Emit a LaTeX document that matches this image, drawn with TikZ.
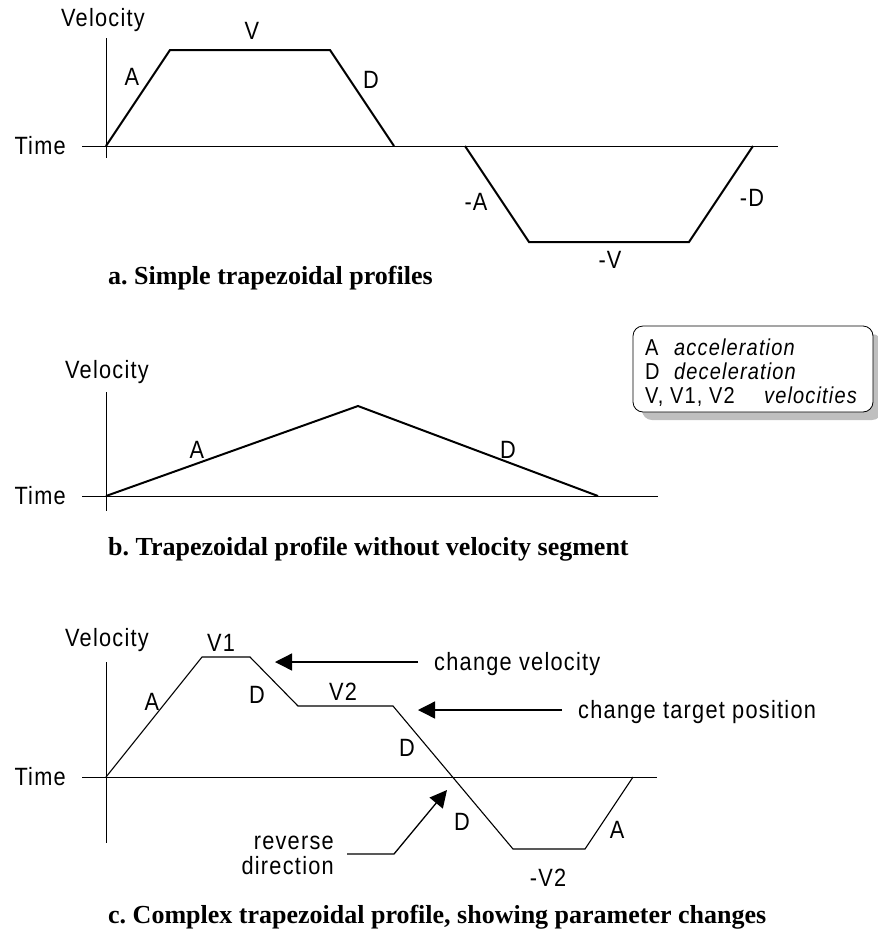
\documentclass[tikz,border=0pt]{standalone}
\usepackage{fontspec}
\setmainfont{Liberation Serif}
\newfontfamily\labelfont[LetterSpace=5,FakeStretch=0.87]{Liberation Sans}
\usetikzlibrary{arrows.meta}
\begin{document}
\frenchspacing
\begin{tikzpicture}[x=1pt,y=-1pt,
  lbl/.style={font=\labelfont\fontsize{25}{25}\selectfont, inner sep=0pt,
              text height=17.9pt, text depth=0pt},
  keyterm/.style={font=\labelfont\fontsize{23}{23}\selectfont, inner sep=0pt,
              text height=16.4pt, text depth=0pt, anchor=west},
  keyword/.style={keyterm, font=\labelfont\itshape\fontsize{23}{23}\selectfont},
  caption/.style={font=\rmfamily\bfseries\fontsize{26}{30}\selectfont,
                  anchor=base west, inner sep=0pt},
  axis/.style={line width=0.9pt},
  profile/.style={line width=2pt, line join=miter},
  thinprofile/.style={line width=1.1pt, line join=miter},
  pointer/.style={line width=1.3pt, -{Triangle[length=17pt,width=17pt]}},
]
\useasboundingbox (0,0) rectangle (878,946);

% ---------- a. simple trapezoidal profiles ----------
\draw[axis] (82,146) -- (778,146);
\draw[axis] (106,38) -- (106,158);
\node[lbl] (velA) at (103,18) {Velocity};
\node[lbl, anchor=east] (timeA) at (66,146) {Time};
\draw[profile] (106,146) -- (170,50) -- (330,50) -- (394,146);
\draw[profile] (465,146) -- (529,242) -- (689,242) -- (753,146);
\node[lbl] (aV) at (252,31) {V};
\node[lbl] (aA) at (132,77) {A};
\node[lbl] (aD) at (371,80) {D};
\node[lbl] (aNA) at (476,202) {-A};
\node[lbl] (aND) at (752,198) {-D};
\node[lbl] (aNV) at (610,260) {-V};
\node[caption] (capA) at (108,284) {a. Simple trapezoidal profiles};

% ---------- b. profile without velocity segment ----------
\draw[axis] (82,496) -- (658,496);
\draw[axis] (106,392) -- (106,511);
\node[lbl] (velB) at (107,370) {Velocity};
\node[lbl, anchor=east] (timeB) at (66,496) {Time};
\draw[profile] (106,496) -- (358,406) -- (598,496);
\node[lbl] (bA) at (197,450) {A};
\node[lbl] (bD) at (508,450) {D};
\node[caption] (capB) at (108,555) {b. Trapezoidal profile without velocity segment};

% ---------- legend ----------
\fill[gray!50, rounded corners=10pt] (642,334) rectangle (882,420);
\node[draw, fill=white, rounded corners=10pt, line width=0.8pt,
      minimum width=240pt, minimum height=86pt, inner sep=0pt] (legend) at (753,369) {};
\node[keyterm] (keyA) at (645,347) {A};
\node[keyword] (keyAtxt) at (674,347) {acceleration};
\node[keyterm] (keyD) at (645,371) {D};
\node[keyword] (keyDtxt) at (674,371) {deceleration};
\node[keyterm] (keyV) at (645,395) {V, V1, V2};
\node[keyword] (keyVtxt) at (764,395) {velocities};

% ---------- c. complex profile ----------
\draw[axis] (82,777) -- (657,777);
\draw[axis] (106,662) -- (106,843);
\node[lbl] (velC) at (107,638) {Velocity};
\node[lbl, anchor=east] (timeC) at (66,777) {Time};
\draw[thinprofile] (106,777) -- (202,657) -- (250,657) -- (298,706)
  -- (393,706) -- (513,849) -- (585,849) -- (633,777);
\node[lbl] (cV1) at (221,643) {V1};
\node[lbl] (cA1) at (152,702) {A};
\node[lbl] (cD1) at (257,695) {D};
\node[lbl] (cV2) at (343,692) {V2};
\node[lbl] (cD2) at (407,748) {D};
\node[lbl] (cD3) at (462,822) {D};
\node[lbl] (cA2) at (617,830) {A};
\node[lbl] (cNV2) at (548,878) {-V2};

\node[lbl, anchor=west] (chVel) at (434,662) {change velocity};
\coordinate (chVelTail) at (418,662);
\coordinate (chVelTip) at (275,662);
\draw[pointer] (chVelTail) -- (chVelTip);

\node[lbl, anchor=west] (chPos) at (578,710) {change target position};
\coordinate (chPosTail) at (562,710);
\coordinate (chPosTip) at (418,710);
\draw[pointer] (chPosTail) -- (chPosTip);

\node[font=\labelfont\fontsize{25}{25}\selectfont, align=right, anchor=east,
      inner sep=0pt] (revDir) at (334,855) {reverse\\direction};
\coordinate (revStart) at (347,854);
\coordinate (revBend) at (394,854);
\coordinate (revTip) at (447,790);
\draw[pointer] (revStart) -- (revBend) -- (revTip);

\node[caption] (capC) at (108,923) {c. Complex trapezoidal profile, showing parameter changes};
\end{tikzpicture}
\end{document}
